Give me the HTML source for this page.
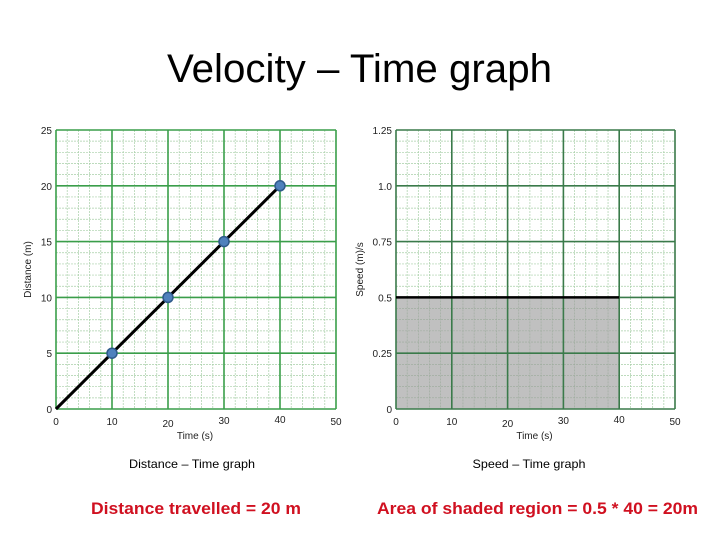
<!DOCTYPE html>
<html><head><meta charset="utf-8">
<style>
html,body{margin:0;padding:0;background:#fff;}
svg{display:block;font-family:"Liberation Sans",sans-serif;}
</style></head>
<body>
<svg id="s" width="720" height="540" viewBox="0 0 720 540">
<text x="167" y="82" font-size="40" textLength="385" lengthAdjust="spacingAndGlyphs" fill="#000">Velocity – Time graph</text>
<text x="192" y="468" font-size="12" text-anchor="middle" textLength="126" lengthAdjust="spacingAndGlyphs">Distance – Time graph</text>
<text x="529" y="468" font-size="12" text-anchor="middle" textLength="113" lengthAdjust="spacingAndGlyphs">Speed – Time graph</text>
<text x="91" y="514" font-size="17" font-weight="bold" fill="#d01020" textLength="210" lengthAdjust="spacingAndGlyphs">Distance travelled = 20 m</text>
<text x="377" y="514" font-size="17" font-weight="bold" fill="#d01020" textLength="321" lengthAdjust="spacingAndGlyphs">Area of shaded region = 0.5 * 40 = 20m</text>
</svg>
<script>
const xTicks=[0,10,20,30,40,50];
const distTicks=[0,5,10,15,20,25];
const distTickLabels=["0","5","10","15","20","25"];
const speedTicks=[0,0.25,0.5,0.75,1.0,1.25];
const speedTickLabels=["0","0.25","0.5","0.75","1.0","1.25"];
const distTimes=[0,10,20,30,40];
const distValues=[0,5,10,15,20];
const markerTimes=[10,20,30,40];
const markerValues=[5,10,15,20];
const speedTimes=[0,40];
const speedValues=[0.5,0.5];

const NS="http://www.w3.org/2000/svg";
const svg=document.getElementById('s');
function el(tag,attrs,parent){const e=document.createElementNS(NS,tag);for(const k in attrs)e.setAttribute(k,attrs[k]);(parent||svg).appendChild(e);return e;}

function chart(cfg){
  const {x0,x1,y0,y1,ymax,major,name}=cfg;
  const sx=v=>x0+(v/50)*(x1-x0);
  const sy=v=>y1-(v/ymax)*(y1-y0);
  const g=el('g',{});
  
  
  // minor grid
  for(let i=1;i<25;i++){ if(i%5===0)continue;
    const v=i*2; const gx=sx(v);
    const l=el('line',{x1:gx,x2:gx,y1:y0,y2:y1,stroke:'#a8cfa8','stroke-width':0.7,'stroke-dasharray':'2,1'},g);
    
    
    const yv=ymax*i/25; const gy=sy(yv);
    const l2=el('line',{x1:x0,x2:x1,y1:gy,y2:gy,stroke:'#a8cfa8','stroke-width':0.7,'stroke-dasharray':'2,1'},g);
    
    
  }
  if(cfg.shade){
    const r=el('rect',{x:sx(0),y:sy(speedValues[0]),width:sx(speedTimes[1])-sx(0),height:sy(0)-sy(speedValues[0]),fill:'#c0c0c0'},g);
    
    
    // minor grid over shade
    for(let i=1;i<25;i++){ if(i%5===0)continue;
      const gx=sx(i*2); if(i*2<speedTimes[1]){
      const l=el('line',{x1:gx,x2:gx,y1:sy(speedValues[0]),y2:y1,stroke:'#9aaa9a','stroke-width':0.6,'stroke-dasharray':'2,1'},g);
      
      }
      const gy=sy(ymax*i/25); if(ymax*i/25<speedValues[0]){
      const l2=el('line',{x1:x0,x2:sx(speedTimes[1]),y1:gy,y2:gy,stroke:'#9aaa9a','stroke-width':0.6,'stroke-dasharray':'2,1'},g);
      
      }
    }
  }
  xTicks.forEach(v=>{
    const l=el('line',{x1:sx(v),x2:sx(v),y1:y0,y2:y1,stroke:major,'stroke-width':1.6},g);
    
    
  });
  cfg.yTicks.forEach(v=>{
    const l=el('line',{x1:x0,x2:x1,y1:sy(v),y2:sy(v),stroke:major,'stroke-width':1.6},g);
    
    
  });
  cfg.yTicks.forEach((v,i)=>{
    const t=el('text',{x:x0-4,y:sy(v)+4,'font-size':10,'text-anchor':'end',fill:'#222'},g);
    t.textContent=cfg.yLabels[i];
    
    
  });
  xTicks.forEach((v,i)=>{
    const off=[0,0,0,3,-1,0][i];
    const t=el('text',{x:sx(v),y:y1+16+off-(v===30?4:0)+(v===20?2:0)-(v===40?1:0),'font-size':10,'text-anchor':'middle',fill:'#222'},g);
    t.textContent=String(v);
    
    
  });
  const xt=el('text',{x:(sx(20)+sx(30))/2-1,y:y1+30,'font-size':10,'text-anchor':'middle',fill:'#222'},g);
  xt.textContent='Time (s)';
  
  
  const yt=el('text',{x:0,y:0,'font-size':10,'text-anchor':'middle',fill:'#222',transform:`translate(${cfg.ytx},${(y0+y1)/2}) rotate(-90)`},g);
  yt.textContent=cfg.yTitle;
  
  
  return {g,sx,sy};
}

const L=chart({x0:56,x1:336,y0:130,y1:409,ymax:25,major:'#3a9e4a',name:'distance-time-chart',yTicks:distTicks,yLabels:distTickLabels,yTitle:'Distance (m)',ytx:31});
const dpts=distTimes.map((t,i)=>L.sx(t)+','+L.sy(distValues[i])).join(' ');
const dl=el('polyline',{points:dpts,fill:'none',stroke:'#000','stroke-width':3},L.g);


markerTimes.forEach((t,i)=>{
  const c=el('circle',{cx:L.sx(t),cy:L.sy(markerValues[i]),r:5,fill:'#4f81bd',stroke:'#2f5a8a','stroke-width':1.5},L.g);
  
  
});

const R=chart({x0:396,x1:675,y0:130,y1:409,ymax:1.25,major:'#3a7a4a',name:'speed-time-chart',yTicks:speedTicks,yLabels:speedTickLabels,yTitle:'Speed (m)/s',ytx:363,shade:true});
const sl=el('line',{x1:R.sx(speedTimes[0]),y1:R.sy(speedValues[0]),x2:R.sx(speedTimes[1]),y2:R.sy(speedValues[1]),stroke:'#000','stroke-width':2.5},R.g);


</script>
</body></html>
